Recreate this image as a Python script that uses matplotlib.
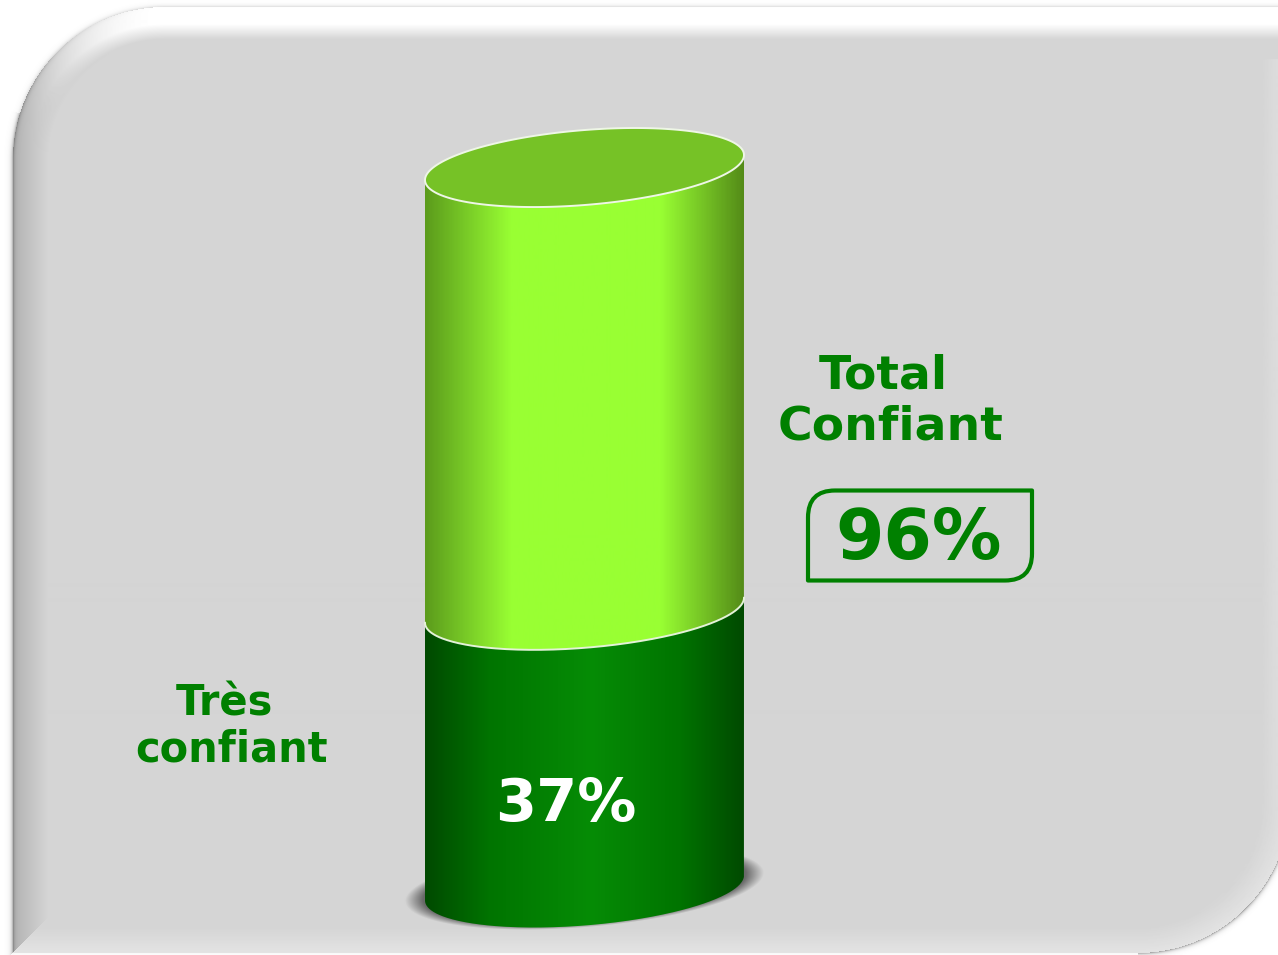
"""Stacked cylinder chart on a bevelled grey panel."""

import matplotlib

matplotlib.use("Agg")
import matplotlib.pyplot as plt
import numpy as np
from matplotlib.colors import LinearSegmentedColormap
from matplotlib.patches import PathPatch, Polygon
from matplotlib.path import Path

W, H = 1278, 955

# data
segment_labels = ["Très\nconfiant", "Total\nConfiant"]
level_values = [37, 96]
level_labels = ["37%", "96%"]

# cylinder geometry in pixels
CX, RX, RY, SHEAR = 584.5, 159.5, 37.5, 12.5
BASE_Y = 888.0
PX_PER_PCT = 7.505

GREEN = "#008000"


def y_of(value):
    return BASE_Y - value * PX_PER_PCT


def rim(cy, t):
    return CX + RX * np.cos(t), cy - SHEAR * np.cos(t) + RY * np.sin(t)


def body_path(y_top, y_bottom):
    t = np.linspace(np.pi, 0, 200)
    x1, y1 = rim(y_top, t)
    x2, y2 = rim(y_bottom, t[::-1])
    return Path(np.column_stack([np.r_[x1, x2], np.r_[y1, y2]]))


def panel_image():
    left, top, right, bottom, r = 13.0, 8.0, 1290.0, 953.0, 152.0
    yy, xx = np.mgrid[0:H, 0:W] + 0.5
    dl, dr, dt, db = xx - left, right - xx, yy - top, bottom - yy
    d = np.minimum.reduce([dl, dr, dt, db])
    nx = np.where(dl == d, -1.0, np.where(dr == d, 1.0, 0.0))
    ny = np.where(dt == d, -1.0, np.where(db == d, 1.0, 0.0))
    nx = np.where(ny != 0, 0.0, nx)
    # the top band runs straight off the right side of the picture
    top_right = (xx > W / 2) & (yy < 60)
    d = np.where(top_right, dt, d)
    nx = np.where(top_right, 0.0, nx)
    ny = np.where(top_right, -1.0, ny)
    for ccx, ccy, mask in (
        (left + r, top + r, (xx < left + r) & (yy < top + r)),
        (right - r, bottom - r, (xx > right - r) & (yy > bottom - r)),
    ):
        dist = np.hypot(xx - ccx, yy - ccy)
        d = np.where(mask, r - dist, d)
        nx = np.where(mask, (xx - ccx) / dist, nx)
        ny = np.where(mask, (yy - ccy) / dist, ny)

    # bevel: bright top, dark left, pale bottom and right
    base = 0.835
    fade_top = np.clip((32 - d) / 15, 0, 1)
    fade_side = np.clip(1 - d / 36, 0, 1)
    top_part = (1.0 - base) * fade_top
    left_part = -0.14 * fade_side - 0.2 * np.exp(-np.maximum(d, 0) / 1.5)
    right_part = 0.05 * np.clip(1 - d / 28, 0, 1)
    bottom_part = 0.055 * np.clip(1 - d / 25, 0, 1)
    shade = (
        np.where(ny < 0, ny**2 * top_part, ny**2 * bottom_part)
        + np.where(nx < 0, nx**2 * left_part, nx**2 * right_part)
    )
    grey = base + shade

    # soft shadow of the cylinder under its base
    u = (xx - CX) / (RX + 20)
    v = (yy - BASE_Y + 1 + SHEAR * (xx - CX) / RX) / (RY + 3)
    rr = np.hypot(u, v)
    grey = grey * (1 - 0.5 * np.clip((1.0 - rr) / 0.1, 0, 1))

    # outside the panel: white, with a narrow shadow along the edge
    edge_weight = np.where(ny < -0.3, 0.4, 1.0) * np.where((nx == 0) & (ny == 1), 0.1, 1.0)
    outer = 1.0 - 0.35 * np.exp(np.minimum(d, 0) / 1.8) * edge_weight
    return np.where(d > 0, grey, outer)


fig = plt.figure(figsize=(W / 100, H / 100), dpi=100)
ax = fig.add_axes([0, 0, 1, 1])
ax.imshow(panel_image(), cmap="gray", vmin=0, vmax=1, extent=(0, W, H, 0), aspect="auto", zorder=0)

light_cmap = LinearSegmentedColormap.from_list(
    "light",
    [(0, "#5c9c1c"), (0.27, "#99ff33"), (0.74, "#99ff33"), (1, "#548c18")],
)
dark_cmap = LinearSegmentedColormap.from_list(
    "dark",
    [(0, "#004a00"), (0.2, "#007400"), (0.52, "#068c06"), (0.8, "#007400"), (1, "#004a00")],
)
gradient = np.linspace(0, 1, 320)[None, :]

y_low, y_high = y_of(level_values[0]), y_of(level_values[1])
extent = (CX - RX, CX + RX, 960, 100)

for cmap, y_a, y_b in ((light_cmap, y_high, y_low), (dark_cmap, y_low, BASE_Y)):
    im = ax.imshow(gradient, cmap=cmap, extent=extent, aspect="auto", zorder=2)
    clip = PathPatch(body_path(y_a, y_b), transform=ax.transData, fc="none", ec="none")
    ax.add_patch(clip)
    im.set_clip_path(clip)

t_full = np.linspace(0, 2 * np.pi, 300)
top_x, top_y = rim(y_high, t_full)
ax.add_patch(
    Polygon(np.column_stack([top_x, top_y]), closed=True, fc="#76c226", ec="#eef6e6", lw=1.4, zorder=3)
)
t_front = np.linspace(0, np.pi, 200)
mid_x, mid_y = rim(y_low, t_front)
ax.plot(mid_x, mid_y, color="#e4f2d8", lw=1.4, zorder=3)

# value box with two rounded corners
bx0, by0, bx1, by1, br = 808.0, 490.5, 1032.0, 580.5, 27.0
verts = [
    (bx0, by1), (bx0, by0 + br), (bx0, by0), (bx0 + br, by0),
    (bx1, by0), (bx1, by1 - br), (bx1, by1), (bx1 - br, by1),
    (bx0, by1),
]
codes = [
    Path.MOVETO, Path.LINETO, Path.CURVE3, Path.CURVE3,
    Path.LINETO, Path.LINETO, Path.CURVE3, Path.CURVE3,
    Path.CLOSEPOLY,
]
ax.add_patch(PathPatch(Path(verts, codes), fc="none", ec=GREEN, lw=3, joinstyle="round", zorder=4))

text_style = dict(family="DejaVu Sans", fontweight="bold", ha="center", va="center", zorder=5)
low_lines = segment_labels[0].split("\n")
high_lines = segment_labels[1].split("\n")
ax.text(224, 703, low_lines[0], color=GREEN, fontsize=30, **text_style)
ax.text(232, 749, low_lines[1], color=GREEN, fontsize=30, **text_style)
ax.text(883, 376, high_lines[0], color=GREEN, fontsize=34, **text_style)
ax.text(891, 427, high_lines[1], color=GREEN, fontsize=34, **text_style)
ax.text(919, 539, level_labels[1], color=GREEN, fontsize=50, **text_style)
ax.text(566, 804, level_labels[0], color="white", fontsize=42.5, **text_style)

ax.set_xlim(0, W)
ax.set_ylim(H, 0)
ax.set_axis_off()
fig.savefig("out.png", dpi=100)
plt.close(fig)
